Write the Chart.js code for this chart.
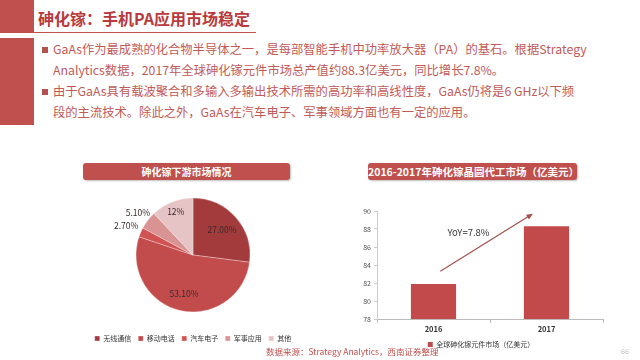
<!DOCTYPE html>
<html>
<head>
<meta charset="utf-8">
<script src="https://cdn.jsdelivr.net/npm/chart.js@4"></script>
<style>
    html, body { margin: 0; padding: 0; }
    body {
        width: 640px; height: 360px; position: relative; overflow: hidden;
        background: #fff; font-family: "Noto Sans CJK SC", "Noto Sans", sans-serif;
    }
    .abs { position: absolute; }
    .block-top { left: 0; top: 0; width: 34px; height: 33px; background: #c0504d; }
    .block-low { left: 0; top: 38px; width: 34px; height: 87px; background: #c0504d; }
    .title-line { left: 34px; top: 32px; width: 222px; height: 1px; background: #c0504d; }
    .title { left: 38px; top: 6px; font-size: 16px; font-weight: bold; color: #b9393c; white-space: nowrap; }
    .bullets { left: 42px; top: 39px; width: 580px; font-size: 12.3px; line-height: 21px; color: #c25a58; white-space: nowrap; }
    .bullets p { margin: 0; padding-left: 11px; position: relative; }
    .bullets p::before {
        content: ""; position: absolute; left: 0; top: 8px; width: 6px; height: 6px; background: #b4504e;
    }
    .box {
        height: 17px; line-height: 17px; background: #c0504d; color: #fff; font-weight: bold;
        text-align: center; border-radius: 3px; box-shadow: 1px 1px 2px rgba(0,0,0,0.25);
        white-space: nowrap;
    }
    .source { left: 266px; top: 345px; font-size: 8.5px; color: #c0504d; white-space: nowrap; }
    .page { left: 621px; top: 346px; font-size: 7px; color: #bbb; }
</style>
</head>
<body>
<div class="abs block-top"></div>
<div class="abs block-low"></div>
<div class="abs title-line"></div>
<div class="abs title">砷化镓：手机PA应用市场稳定</div>
<div class="abs bullets">
    <p>GaAs作为最成熟的化合物半导体之一，是每部智能手机中功率放大器（PA）的基石。根据Strategy<br>Analytics数据，2017年全球砷化镓元件市场总产值约88.3亿美元，同比增长7.8%。</p>
    <p>由于GaAs具有载波聚合和多输入多输出技术所需的高功率和高线性度，GaAs仍将是6 GHz以下频<br>段的主流技术。除此之外，GaAs在汽车电子、军事领域方面也有一定的应用。</p>
</div>

<div class="abs box" style="left:83px; top:163px; width:207px; font-size:10px;">砷化镓下游市场情况</div>
<div class="abs box" style="left:368px; top:163px; width:209px; font-size:10.5px;">2016-2017年砷化镓晶圆代工市场（亿美元）</div>

<div class="abs" style="left:80px; top:182px; width:226px; height:170px;"><canvas id="pie-chart"></canvas></div>
<div class="abs" style="left:345px; top:203px; width:280px; height:155px;"><canvas id="bar-chart"></canvas></div>

<div class="abs source">数据来源：Strategy Analytics，西南证券整理</div>
<div class="abs page">66</div>

<script>
    // --- DATA ---
    const pieLabels = ['无线通信', '移动电话', '汽车电子', '军事应用', '其他'];
    const pieValues = [27.0, 53.1, 2.7, 5.1, 12.0];
    const pieText = ['27.00%', '53.10%', '2.70%', '5.10%', '12%'];
    const pieColors = ['#a33b3c', '#c24c4b', '#d05352', '#d99392', '#e6c3c4'];
    const pieLabelRadius = [0.68, 0.7, 1.28, 1.22, 0.82];

    const barYears = ['2016', '2017'];
    const barValues = [81.9, 88.3];
    const barSeriesName = '全球砷化镓元件市场（亿美元）';
    const yTicks = [78, 80, 82, 84, 86, 88, 90];
    const yoyText = 'YoY=7.8%';

    const cjk = '"Noto Sans CJK SC", "Noto Sans", sans-serif';

    // --- PIE ---
    const pieLabelPlugin = {
        id: 'pieLabels',
        afterDatasetsDraw(chart) {
            const ctx = chart.ctx;
            const arcs = chart.getDatasetMeta(0).data;
            ctx.save();
            ctx.font = '8.5px ' + cjk;
            ctx.fillStyle = '#3a2a2a';
            ctx.textAlign = 'center';
            ctx.textBaseline = 'middle';
            arcs.forEach((arc, i) => {
                const mid = (arc.startAngle + arc.endAngle) / 2;
                const r = arc.outerRadius * pieLabelRadius[i];
                ctx.fillText(pieText[i], arc.x + Math.cos(mid) * r, arc.y + Math.sin(mid) * r);
            });
            ctx.restore();
        }
    };

    new Chart(document.getElementById('pie-chart'), {
        type: 'pie',
        data: {
            labels: pieLabels,
            datasets: [{
                data: pieValues,
                backgroundColor: pieColors,
                borderColor: 'rgba(255,255,255,0.5)',
                borderWidth: 0.6,
                radius: 57
            }]
        },
        options: {
            responsive: true,
            maintainAspectRatio: false,
            animation: false,
            plugins: {
                legend: {
                    position: 'bottom',
                    labels: {
                        boxWidth: 5, boxHeight: 5, padding: 7,
                        color: '#333', font: { size: 7, family: cjk }
                    }
                },
                tooltip: { enabled: false }
            }
        },
        plugins: [pieLabelPlugin]
    });

    // --- BAR ---
    const arrowPlugin = {
        id: 'yoyArrow',
        afterDatasetsDraw(chart) {
            const x = chart.scales.x, y = chart.scales.y, ctx = chart.ctx;
            const x0 = x.getPixelForValue(0.06), y0 = y.getPixelForValue(83.3);
            const x1 = x.getPixelForValue(0.88), y1 = y.getPixelForValue(89.7);
            const ang = Math.atan2(y1 - y0, x1 - x0);
            ctx.save();
            ctx.strokeStyle = '#a4504e';
            ctx.fillStyle = '#a4504e';
            ctx.lineWidth = 1.2;
            ctx.beginPath();
            ctx.moveTo(x0, y0);
            ctx.lineTo(x1 - Math.cos(ang) * 4, y1 - Math.sin(ang) * 4);
            ctx.stroke();
            ctx.beginPath();
            ctx.moveTo(x1, y1);
            ctx.lineTo(x1 - Math.cos(ang - 0.4) * 7, y1 - Math.sin(ang - 0.4) * 7);
            ctx.lineTo(x1 - Math.cos(ang + 0.4) * 7, y1 - Math.sin(ang + 0.4) * 7);
            ctx.closePath();
            ctx.fill();
            ctx.font = '9.5px ' + cjk;
            ctx.fillStyle = '#333';
            ctx.textAlign = 'center';
            ctx.textBaseline = 'middle';
            ctx.fillText(yoyText, x.getPixelForValue(0.31), y.getPixelForValue(87.6));
            ctx.restore();
        }
    };

    new Chart(document.getElementById('bar-chart'), {
        type: 'bar',
        data: {
            labels: barYears,
            datasets: [{
                label: barSeriesName,
                data: barValues,
                backgroundColor: '#c24a4a',
                barPercentage: 0.8,
                categoryPercentage: 0.5
            }]
        },
        options: {
            responsive: true,
            maintainAspectRatio: false,
            animation: false,
            layout: { padding: { top: 8, right: 22, left: 14 } },
            plugins: {
                legend: {
                    position: 'bottom',
                    labels: {
                        boxWidth: 5, boxHeight: 5, padding: 5,
                        color: '#333', font: { size: 7, family: cjk }
                    }
                },
                tooltip: { enabled: false }
            },
            scales: {
                x: {
                    grid: { display: true, drawOnChartArea: false, tickLength: 4, color: '#bbb' },
                    border: { color: '#bbb' },
                    ticks: { color: '#333', font: { size: 7.5, weight: 'bold', family: cjk }, padding: 2 }
                },
                y: {
                    min: yTicks[0],
                    max: yTicks[yTicks.length - 1],
                    afterBuildTicks: axis => { axis.ticks = yTicks.map(v => ({ value: v })); },
                    afterFit: axis => { axis.width = 18; },
                    grid: { display: true, drawOnChartArea: false, tickLength: 3, color: '#ccc' },
                    border: { color: '#ccc' },
                    ticks: { color: '#555', font: { size: 7, family: cjk }, padding: 3 }
                }
            }
        },
        plugins: [arrowPlugin]
    });
</script>
</body>
</html>
